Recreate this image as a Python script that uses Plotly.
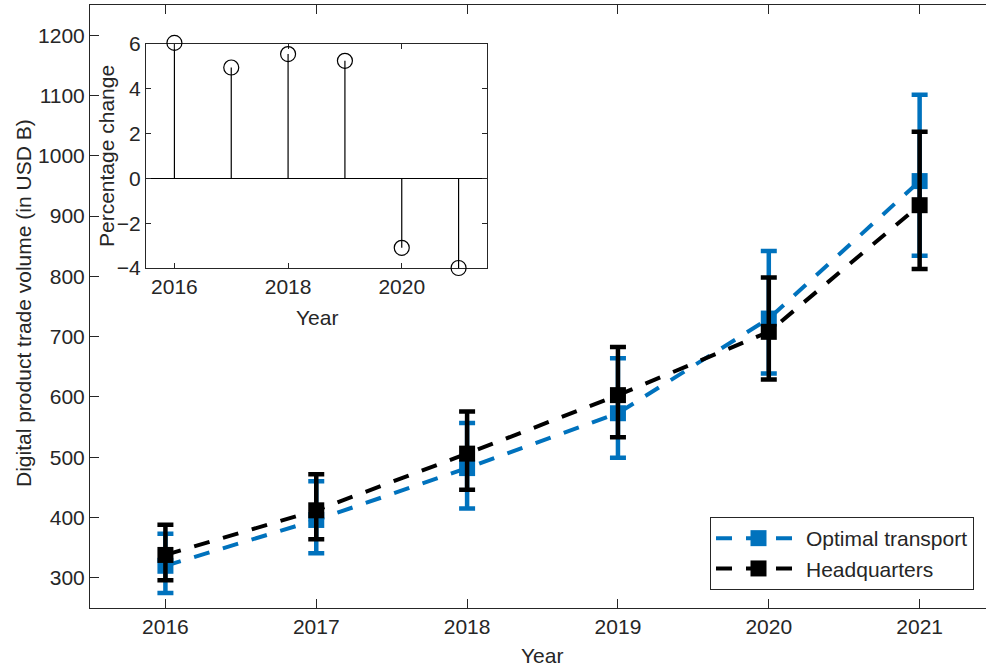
import plotly.graph_objects as go

years = [2016, 2017, 2018, 2019, 2020, 2021]
ot_val = [320, 396, 482, 573, 730, 958]
ot_lo = [275, 341, 415, 499, 639, 834]
ot_hi = [373, 460, 557, 664, 842, 1101]
hq_val = [338, 412, 506, 603, 708, 918]
hq_lo = [296, 364, 446, 533, 629, 812]
hq_hi = [388, 472, 576, 683, 798, 1040]
pct_change = [6.05, 4.95, 5.55, 5.25, -3.1, -4.0]

main_yticks = [300, 400, 500, 600, 700, 800, 900, 1000, 1100, 1200]
inset_xticks = [2016, 2018, 2020]
inset_yticks = [-4, -2, 0, 2, 4, 6]

BLUE = "#0072BD"
TXT = "#262626"
FONT = "Liberation Sans, Arial, sans-serif"
FS = 21

W, H = 986, 667
L, R, T, B = 90, 0, 5, 59
pw, ph = W - L - R, H - T - B

def px_x(p):
    return (p - L) / pw

def px_y(p):
    return (H - B - p) / ph

fig = go.Figure()

fig.add_trace(go.Scatter(
    x=years, y=ot_val, name="Optimal transport", mode="lines+markers",
    line=dict(color=BLUE, width=4, dash="16px,14px"),
    marker=dict(symbol="square", size=16, color=BLUE),
    error_y=dict(type="data", symmetric=False,
                 array=[h - v for h, v in zip(ot_hi, ot_val)],
                 arrayminus=[v - l for v, l in zip(ot_val, ot_lo)],
                 color=BLUE, thickness=4.5, width=8),
    xaxis="x", yaxis="y"))

fig.add_trace(go.Scatter(
    x=years, y=hq_val, name="Headquarters", mode="lines+markers",
    line=dict(color="black", width=4, dash="16px,14px"),
    marker=dict(symbol="square", size=16, color="black"),
    error_y=dict(type="data", symmetric=False,
                 array=[h - v for h, v in zip(hq_hi, hq_val)],
                 arrayminus=[v - l for v, l in zip(hq_val, hq_lo)],
                 color="black", thickness=4.5, width=8),
    xaxis="x", yaxis="y"))

# inset stems on the inset axes
sx, sy = [], []
for x, v in zip(years, pct_change):
    sx += [x, x, None]
    sy += [0, v, None]
fig.add_trace(go.Scatter(x=sx, y=sy, mode="lines", line=dict(color="black", width=1.2),
                         showlegend=False, xaxis="x2", yaxis="y2", hoverinfo="skip"))
# inset circles on a hidden axis with identical scale but a little headroom
fig.add_trace(go.Scatter(x=years, y=pct_change, mode="markers", cliponaxis=False,
                         marker=dict(symbol="circle-open", size=15, color="black",
                                     line=dict(width=1.2, color="black")),
                         showlegend=False, xaxis="x2", yaxis="y3"))

axis_common = dict(showgrid=False, zeroline=False, showline=True, linecolor=TXT, linewidth=1,
                   ticks="inside", tickcolor=TXT, tickwidth=1, automargin=False,
                   tickfont=dict(family=FONT, size=FS, color=TXT))

inset_top, inset_bot = 44, 268
unit_px = (inset_bot - inset_top) / 10.0
head = 12

fig.update_layout(
    width=W, height=H,
    margin=dict(l=L, r=R, t=T, b=B, autoexpand=False),
    paper_bgcolor="white", plot_bgcolor="rgba(0,0,0,0)",
    font=dict(family=FONT, size=FS, color=TXT),
    xaxis=dict(**axis_common, range=[2015.5, 2021.44], tickvals=years, ticklen=9,
               mirror="ticks", domain=[0, 1]),
    yaxis=dict(**axis_common, range=[250, 1250], tickvals=main_yticks, ticklen=9,
               domain=[0, 1]),
    xaxis2=dict(**axis_common, range=[2015.5, 2021.5], tickvals=inset_xticks, ticklen=5,
                mirror="ticks", anchor="y2",
                domain=[px_x(146), px_x(487)]),
    yaxis2=dict(**axis_common, range=[-4, 6], tickvals=inset_yticks, ticklen=5,
                mirror="ticks", anchor="x2",
                domain=[px_y(inset_bot), px_y(inset_top)]),
    yaxis3=dict(visible=False, anchor="x2", range=[-4, 6 + head / unit_px],
                domain=[px_y(inset_bot), px_y(inset_top - head)]),
    showlegend=True,
    legend=dict(x=px_x(974), y=px_y(590), xanchor="right", yanchor="bottom",
                bgcolor="white", bordercolor=TXT, borderwidth=1,
                font=dict(family=FONT, size=FS, color=TXT), itemwidth=85,
                tracegroupgap=0),
)
fig.layout.yaxis2.zeroline = True
fig.layout.yaxis2.zerolinecolor = "black"
fig.layout.yaxis2.zerolinewidth = 1

ann = [
    dict(text="Year", x=px_x(542), y=px_y(655)),
    dict(text="Digital product trade volume (in USD B)", x=px_x(23), y=px_y(303), textangle=-90),
    dict(text="Year", x=px_x(317), y=px_y(317)),
    dict(text="Percentage change", x=px_x(107), y=px_y(156), textangle=-90),
]
for a in ann:
    fig.add_annotation(xref="paper", yref="paper", showarrow=False, xanchor="center",
                       yanchor="middle", font=dict(family=FONT, size=FS, color=TXT), **a)

fig.write_html("out.html", config={"displayModeBar": False},
               post_script="document.body.style.margin='0';document.body.style.overflow='hidden';")
